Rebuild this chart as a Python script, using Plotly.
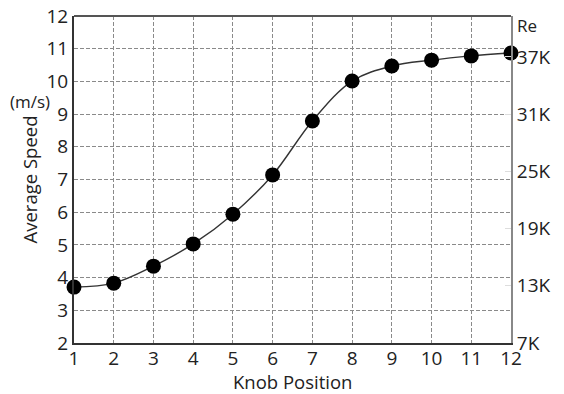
import plotly.graph_objects as go

knob = [1, 2, 3, 4, 5, 6, 7, 8, 9, 10, 11, 12]
speed = [3.71, 3.83, 4.35, 5.03, 5.94, 7.14, 8.79, 10.01, 10.47, 10.65, 10.78, 10.87]
re_ticks = [7, 13, 19, 25, 31, 37]
re_labels = ["7K", "13K", "19K", "25K", "31K", "37K"]

FONT = "Open Sans"
fig = go.Figure()
fig.add_trace(go.Scatter(
    x=knob, y=speed, mode="lines+markers",
    line=dict(color="#333333", width=1.4, shape="spline", smoothing=1.0),
    marker=dict(color="black", size=15),
    showlegend=False, cliponaxis=False,
))
fig.add_trace(go.Scatter(x=[1], y=[7], yaxis="y2", mode="markers",
                         marker=dict(opacity=0), showlegend=False, hoverinfo="skip"))

GRID = dict(gridcolor="#8a8a8a", griddash="4px,2px", gridwidth=1)
fig.update_layout(
    width=564, height=394,
    margin=dict(l=74, r=53, t=16, b=51),
    plot_bgcolor="white", paper_bgcolor="white",
    font=dict(family=FONT, color="#222222", size=19),
    xaxis=dict(
        range=[1, 12], tickvals=knob, ticks="", showgrid=True, **GRID,
        showline=True, linecolor="#333333", linewidth=2, automargin=False,
        zeroline=False, ticklabelstandoff=-3,
        tickfont=dict(size=19),
    ),
    yaxis=dict(
        range=[2, 12], tickvals=list(range(2, 13)), ticks="", showgrid=True, **GRID,
        showline=True, linecolor="#333333", linewidth=2, automargin=False,
        zeroline=False,
        title=dict(text="Average Speed", font=dict(size=18.5), standoff=4),
        tickfont=dict(size=19),
    ),
    yaxis2=dict(
        overlaying="y", side="right", automargin=False,
        range=[7, 7 + 10 * 30 / 8.75], tickvals=re_ticks, ticktext=re_labels,
        showgrid=False, zeroline=False, showline=True, linecolor="#888888", linewidth=2,
        ticks="inside", ticklen=6, tickcolor="#dddddd",
        tickfont=dict(size=19),
    ),
    shapes=[dict(type="line", xref="paper", yref="paper", x0=0, x1=1, y0=1, y1=1,
                 line=dict(color="#555555", width=2))],
    annotations=[
        dict(text="Knob Position", xref="paper", yref="paper", x=0.5, y=-0.118,
             showarrow=False, font=dict(size=18.5), xanchor="center", yanchor="middle"),
        dict(text="(m/s)", xref="paper", yref="paper", x=-0.1, y=0.74,
             showarrow=False, font=dict(size=17), xanchor="center", yanchor="middle"),
        dict(text="Re", xref="paper", yref="paper", x=1.01, y=0.97,
             showarrow=False, font=dict(size=17), xanchor="left", yanchor="middle"),
    ],
)
fig.write_html("out.html")
